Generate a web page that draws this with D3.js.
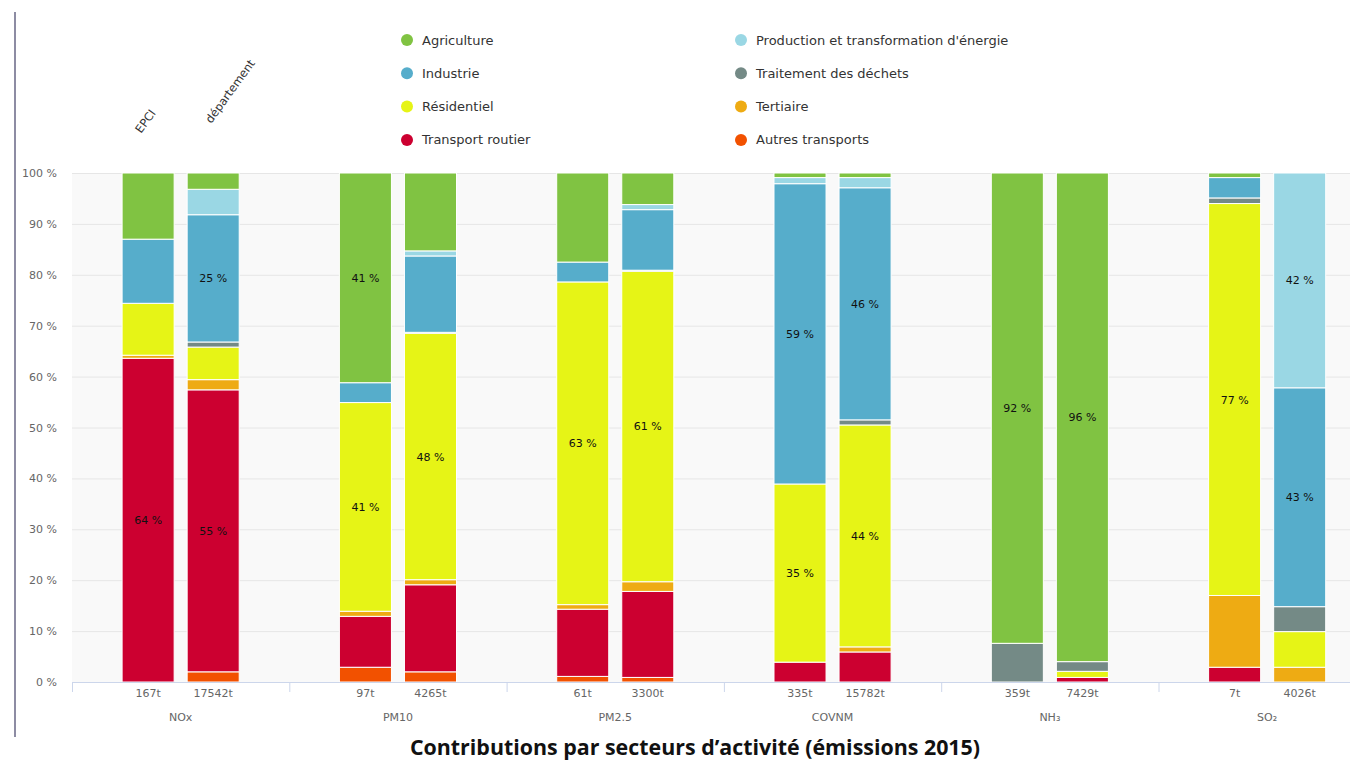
<!DOCTYPE html>
<html>
<head>
<meta charset="utf-8">
<style>
body { margin: 0; background: #fff; }
svg { font-family: "DejaVu Sans", sans-serif; display: block; }
</style>
<script src="https://d3js.org/d3.v7.min.js"></script>
</head>
<body>
<svg id="chart" width="1350" height="761"></svg>
<script>

var width = 1350;
var height = 761;

// pollutants (groups) and the two scopes inside each group
var pollutants = ["NOx", "PM10", "PM2.5", "COVNM", "NH\u2083", "SO\u2082"];
var scopes = ["EPCI", "département"];

// emissions in tonnes, [EPCI, département] for each pollutant
var totals = [[167, 17542], [97, 4265], [61, 3300], [335, 15782], [359, 7429], [7, 4026]];

// share of each sector, in %, bars in order NOx EPCI, NOx dép., PM10 EPCI, ...
var autresTransports = [0, 2.0, 2.9, 2.0, 1.1, 0.9, 0, 0, 0, 0, 0, 0];
var transportRoutier = [63.6, 55.4, 10.0, 17.1, 13.2, 16.9, 3.9, 5.9, 0, 0.9, 2.9, 0];
var tertiaire = [0.6, 2.0, 1.0, 1.0, 0.9, 1.9, 0, 1.0, 0, 0, 14.1, 2.9];
var residentiel = [10.2, 6.4, 41.0, 48.4, 63.4, 61.0, 35.0, 43.6, 0, 1.2, 77.0, 7.0];
var dechets = [0, 1.0, 0, 0.2, 0, 0.2, 0, 1.0, 7.6, 1.9, 1.1, 4.9];
var industrie = [12.6, 25.0, 3.9, 15.0, 3.9, 11.9, 59.0, 45.6, 0, 0, 4.0, 43.0];
var energie = [0, 5.0, 0, 1.0, 0, 1.0, 1.2, 2.0, 0, 0, 0, 42.2];
var agriculture = [13.0, 3.2, 41.2, 15.3, 17.5, 6.2, 0.9, 0.9, 92.4, 96.0, 0.9, 0];

var yTicks = [0, 10, 20, 30, 40, 50, 60, 70, 80, 90, 100];

// sectors, bottom of the stack first
var sectors = [
    {key: "Autres transports", values: autresTransports, color: "#f25100"},
    {key: "Transport routier", values: transportRoutier, color: "#cc0030"},
    {key: "Tertiaire", values: tertiaire, color: "#eeab13"},
    {key: "Résidentiel", values: residentiel, color: "#e6f416"},
    {key: "Traitement des déchets", values: dechets, color: "#748a86"},
    {key: "Industrie", values: industrie, color: "#56adcb"},
    {key: "Production et transformation d'énergie", values: energie, color: "#9ad7e4"},
    {key: "Agriculture", values: agriculture, color: "#80c342"}
];

// legend order as in the original (two columns)
var legendOrder = ["Agriculture", "Industrie", "Résidentiel", "Transport routier",
    "Production et transformation d'énergie", "Traitement des déchets", "Tertiaire", "Autres transports"];

// one row per bar
var rows = [];
pollutants.forEach(function(p, i) {
    scopes.forEach(function(s, j) {
        var row = {pollutant: p, scope: s, total: totals[i][j]};
        sectors.forEach(function(sec) { row[sec.key] = sec.values[i * 2 + j]; });
        rows.push(row);
    });
});

var margin = {left: 72, top: 173, bottom: 682};
var groupWidth = 217.3;

var x0 = d3.scaleBand()
    .domain(pollutants)
    .range([margin.left, margin.left + groupWidth * pollutants.length]);

var x1 = d3.scaleBand()
    .domain(scopes)
    .range([0, x0.bandwidth()])
    .paddingInner(0.2)
    .paddingOuter(0.77);

var y = d3.scaleLinear()
    .domain([0, 100])
    .range([margin.bottom, margin.top]);

var svg = d3.select("#chart");

// left rule
svg.append("line")
    .attr("x1", 15).attr("x2", 15)
    .attr("y1", 12).attr("y2", 737)
    .style("stroke", "#8d8ca3")
    .style("stroke-width", 2);

// plot background
svg.append("rect")
    .attr("x", margin.left)
    .attr("y", y(100))
    .attr("width", width - margin.left)
    .attr("height", y(0) - y(100))
    .style("fill", "#f9f9f9");

// grid + y axis
var yAxis = svg.append("g")
    .attr("transform", "translate(" + margin.left + ",0)")
    .call(d3.axisLeft(y)
        .tickValues(yTicks)
        .tickSize(-(width - margin.left))
        .tickPadding(15)
        .tickFormat(function(d) { return d + " %"; }));
yAxis.select(".domain").remove();
yAxis.selectAll(".tick line").style("stroke", "#e6e6e6");
yAxis.selectAll(".tick text")
    .style("font-family", "DejaVu Sans, sans-serif")
    .style("font-size", "11px")
    .style("fill", "#666");

// stacked bars
var stack = d3.stack().keys(sectors.map(function(s) { return s.key; }));
var series = stack(rows);

var layer = svg.append("g")
    .selectAll("g")
    .data(series)
    .enter().append("g")
    .style("fill", function(d, i) { return sectors[i].color; });

layer.selectAll("rect")
    .data(function(d) { return d; })
    .enter().append("rect")
    .filter(function(d) { return d[1] - d[0] > 0; })
    .attr("x", function(d) { return x0(d.data.pollutant) + x1(d.data.scope); })
    .attr("y", function(d) { return y(d[1]); })
    .attr("width", x1.bandwidth())
    .attr("height", function(d) { return y(d[0]) - y(d[1]); })
    .style("stroke", "#fff")
    .style("stroke-width", 1);

// data labels on big segments
layer.selectAll("text")
    .data(function(d) { return d; })
    .enter().append("text")
    .filter(function(d) { return d[1] - d[0] >= 20; })
    .attr("x", function(d) { return x0(d.data.pollutant) + x1(d.data.scope) + x1.bandwidth() / 2; })
    .attr("y", function(d) { return y((d[0] + d[1]) / 2) + 4; })
    .attr("text-anchor", "middle")
    .style("font-size", "11px")
    .style("fill", "#111")
    .text(function(d) { return Math.round(d[1] - d[0]) + " %"; });

// x axis line and group ticks
svg.append("line")
    .attr("x1", margin.left).attr("x2", width)
    .attr("y1", y(0) + 0.5).attr("y2", y(0) + 0.5)
    .style("stroke", "#ccd6eb");

svg.append("g")
    .selectAll("line")
    .data(pollutants)
    .enter().append("line")
    .attr("x1", function(d) { return x0(d) + 0.5; })
    .attr("x2", function(d) { return x0(d) + 0.5; })
    .attr("y1", y(0))
    .attr("y2", y(0) + 10)
    .style("stroke", "#ccd6eb");

// totals under each bar
svg.append("g")
    .selectAll("text")
    .data(rows)
    .enter().append("text")
    .attr("x", function(d) { return x0(d.pollutant) + x1(d.scope) + x1.bandwidth() / 2; })
    .attr("y", y(0) + 15)
    .attr("text-anchor", "middle")
    .style("font-size", "11px")
    .style("fill", "#666")
    .text(function(d) { return d.total + "t"; });

// pollutant names
svg.append("g")
    .selectAll("text")
    .data(pollutants)
    .enter().append("text")
    .attr("x", function(d) { return x0(d) + x0.bandwidth() / 2; })
    .attr("y", y(0) + 39)
    .attr("text-anchor", "middle")
    .style("font-size", "11px")
    .style("fill", "#666")
    .text(function(d) { return d; });

// rotated scope names over the first group
svg.append("g")
    .selectAll("text")
    .data(scopes)
    .enter().append("text")
    .attr("transform", function(d, i) {
        var cx = x0(pollutants[0]) + x1(d) + x1.bandwidth() / 2 - 7 + i * 5;
        return "translate(" + cx + "," + (134 - i * 10) + ") rotate(-54)";
    })
    .style("font-size", "11.5px")
    .style("fill", "#333")
    .text(function(d) { return d; });

// legend
var legend = svg.append("g")
    .selectAll("g")
    .data(legendOrder)
    .enter().append("g")
    .attr("transform", function(d, i) {
        return "translate(" + (407 + Math.floor(i / 4) * 334) + "," + (40 + (i % 4) * 33.3) + ")";
    });

legend.append("circle")
    .attr("r", 6)
    .style("fill", function(d) {
        return sectors.filter(function(s) { return s.key === d; })[0].color;
    });

legend.append("text")
    .attr("x", 15)
    .attr("y", 4.5)
    .style("font-size", "13px")
    .style("fill", "#333")
    .text(function(d) { return d; });

// title
svg.append("text")
    .attr("x", 695)
    .attr("y", 755)
    .attr("text-anchor", "middle")
    .style("font-family", "'Open Sans', sans-serif")
    .style("font-size", "21.4px")
    .style("font-weight", "bold")
    .style("fill", "#111")
    .text("Contributions par secteurs d\u2019activité (émissions 2015)");

</script>
</body>
</html>
